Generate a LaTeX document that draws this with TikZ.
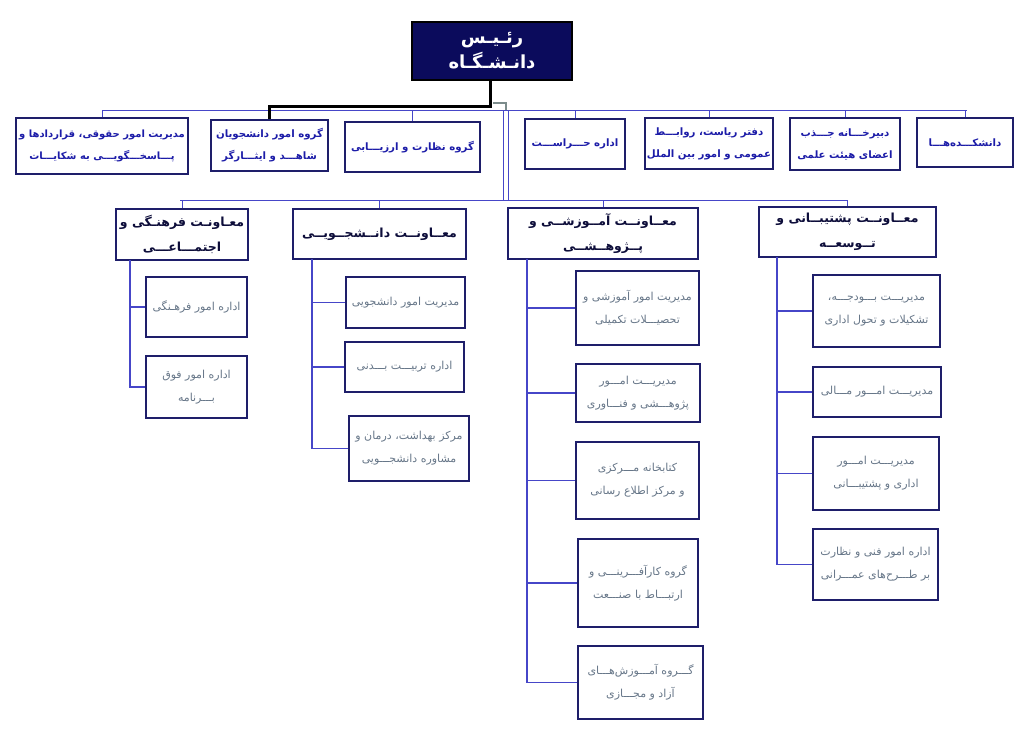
\documentclass[tikz,border=0pt]{standalone}
\usepackage{fontspec}
\newfontfamily\arabicfont[Script=Arabic]{DejaVu Sans}
\TeXXeTstate=1
\newcommand\faline[1]{\beginR #1\endR}
\definecolor{boxc}{HTML}{1E1E6A}
\definecolor{rootc}{HTML}{0B0B5C}
\definecolor{topc}{HTML}{1C1CA8}
\definecolor{vicec}{HTML}{0D0D3A}
\definecolor{leafc}{HTML}{667688}
\definecolor{linec}{HTML}{4646C8}
\definecolor{greyc}{HTML}{7C8C8C}
\tikzset{
  box/.style={draw=boxc, line width=1.3pt, fill=white, inner sep=1pt, align=center, rectangle},
  rootbox/.style={box, fill=rootc, draw=black, text=white, font=\arabicfont\bfseries\fontsize{18}{25}\selectfont},
  topbox/.style={box, text=topc, font=\arabicfont\bfseries\fontsize{10.2}{22}\selectfont},
  vicebox/.style={box, text=vicec, font=\arabicfont\bfseries\fontsize{12.5}{25}\selectfont},
  leafbox/.style={box, text=leafc, font=\arabicfont\fontsize{11}{23}\selectfont},
  conn/.style={draw=linec, line width=1pt},
  trunk/.style={draw=linec, line width=1.3pt},
  bossline/.style={draw=black, line width=3pt},
}
\begin{document}
\begin{tikzpicture}[x=1pt, y=-1pt]
\useasboundingbox (0,0) rectangle (1024,745);
% ---- root
\node[rootbox, minimum width=160pt, minimum height=58pt] (root) at (492,51) {\faline{رئـیـس}\\\faline{دانـشـگـاه}};
% ---- top row
\node[topbox, minimum width=172pt, minimum height=56pt, font=\arabicfont\bfseries\fontsize{10}{22}\selectfont] (A) at (102,146) {\faline{مدیریت امور حقوقی، قراردادها و}\\\faline{پـــاسخـــگویـــی به شکایـــات}};
\node[topbox, minimum width=117pt, minimum height=51pt] (B) at (269.5,145.5) {\faline{گروه امور دانشجویان}\\\faline{شاهـــد و ایثـــارگر}};
\node[topbox, minimum width=135pt, minimum height=50pt] (C) at (412.5,147) {\faline{گروه نظارت و ارزیـــابی}};
\node[topbox, minimum width=100pt, minimum height=50pt] (D) at (575,144) {\faline{اداره حـــراســـت}};
\node[topbox, minimum width=128pt, minimum height=51pt] (E) at (709,143.5) {\faline{دفتر ریاست، روابـــط}\\\faline{عمومی و امور بین الملل}};
\node[topbox, minimum width=110pt, minimum height=52pt] (F) at (845,144) {\faline{دبیرخـــانه جـــذب}\\\faline{اعضای هیئت علمی}};
\node[topbox, minimum width=96pt, minimum height=49pt] (G) at (965,142.5) {\faline{دانشکـــده‌هـــا}};
% ---- vice presidents
\node[vicebox, minimum width=132pt, minimum height=51pt] (H) at (182,234.5) {\faline{معـاونـت فرهنـگی و}\\\faline{اجتمـــاعـــی}};
\node[vicebox, minimum width=173pt, minimum height=50pt] (I) at (379.5,234) {\faline{معــاونــت دانــشجــویــی}};
\node[vicebox, minimum width=190pt, minimum height=51pt] (J) at (603,233.5) {\faline{معــاونــت آمــوزشــی و}\\\faline{پــژوهــشــی}};
\node[vicebox, minimum width=177pt, minimum height=50pt] (K) at (847.5,232) {\faline{معــاونــت پشتیبــانی و}\\\faline{تــوسعــه}};
% ---- leaves H
\node[leafbox, minimum width=101pt, minimum height=60pt] (H1) at (196.5,307) {\faline{اداره امور فرهـنگی}};
\node[leafbox, minimum width=101pt, minimum height=62pt] (H2) at (196.5,387) {\faline{اداره امور فوق}\\\faline{بـــرنامه}};
% ---- leaves I
\node[leafbox, minimum width=119pt, minimum height=51pt] (I1) at (405.5,302.5) {\faline{مدیریت امور دانشجویی}};
\node[leafbox, minimum width=119pt, minimum height=50pt] (I2) at (404.5,367) {\faline{اداره تربیـــت بـــدنی}};
\node[leafbox, minimum width=120pt, minimum height=65pt] (I3) at (409,448.5) {\faline{مرکز بهداشت، درمان و}\\\faline{مشاوره دانشجـــویی}};
% ---- leaves J
\node[leafbox, minimum width=123pt, minimum height=74pt] (J1) at (637.5,308) {\faline{مدیریت امور آموزشی و}\\\faline{تحصیـــلات تکمیلی}};
\node[leafbox, minimum width=124pt, minimum height=58pt] (J2) at (638,393) {\faline{مدیریـــت امـــور}\\\faline{پژوهـــشی و فنـــاوری}};
\node[leafbox, minimum width=123pt, minimum height=77pt] (J3) at (637.5,480.5) {\faline{کتابخانه مـــرکزی}\\\faline{و مرکز اطلاع رسانی}};
\node[leafbox, minimum width=120pt, minimum height=88pt] (J4) at (638,583) {\faline{گروه کارآفـــرینـــی و}\\\faline{ارتبـــاط با صنـــعت}};
\node[leafbox, minimum width=125pt, minimum height=73pt] (J5) at (640.5,682.5) {\faline{گـــروه آمـــوزش‌هـــای}\\\faline{آزاد و مجـــازی}};
% ---- leaves K
\node[leafbox, minimum width=127pt, minimum height=72pt] (K1) at (876.5,311) {\faline{مدیریـــت بـــودجـــه،}\\\faline{تشکیلات و تحول اداری}};
\node[leafbox, minimum width=128pt, minimum height=50pt] (K2) at (877,392) {\faline{مدیریـــت امـــور مـــالی}};
\node[leafbox, minimum width=126pt, minimum height=73pt] (K3) at (876,473.5) {\faline{مدیریـــت امـــور}\\\faline{اداری و پشتیبـــانی}};
\node[leafbox, minimum width=125pt, minimum height=71pt] (K4) at (875.5,564.5) {\faline{اداره امور فنی و نظارت}\\\faline{بر طـــرح‌های عمـــرانی}};
% ---- top bus
\coordinate (busL) at (102,110);
\coordinate (busR) at (967,110);
\draw[conn] (busL) -- (busR);
\foreach \n in {A,C,D,E,F,G} \draw[conn] (\n.north) -- (\n.north |- busL);
% ---- boss line to B
\coordinate (rk) at (490,106);
\draw[bossline] (root.south -| rk) -- (rk) -| (B.north);
\draw[draw=greyc, line width=1.5pt] (493,103) -- (506,103) -- (506,110);
% ---- second bus
\coordinate (bus2L) at (180,200);
\coordinate (bus2R) at (848,200);
\draw[conn] (503,110) -- (503,200);
\draw[conn] (508,110) -- (508,200);
\draw[conn] (bus2L) -- (bus2R);
\foreach \n in {H,I,J,K} \draw[conn] (\n.north) -- (\n.north |- bus2L);
% ---- trunks
\coordinate (hx) at (130,260);
\coordinate (ix) at (312,259);
\coordinate (jx) at (527,259);
\coordinate (kx) at (777,257);
\foreach \c in {H1,H2} \draw[trunk] (hx) |- (\c.west);
\foreach \c in {I1,I2,I3} \draw[trunk] (ix) |- (\c.west);
\foreach \c in {J1,J2,J3,J4,J5} \draw[trunk] (jx) |- (\c.west);
\foreach \c in {K1,K2,K3,K4} \draw[trunk] (kx) |- (\c.west);
\end{tikzpicture}
\end{document}
